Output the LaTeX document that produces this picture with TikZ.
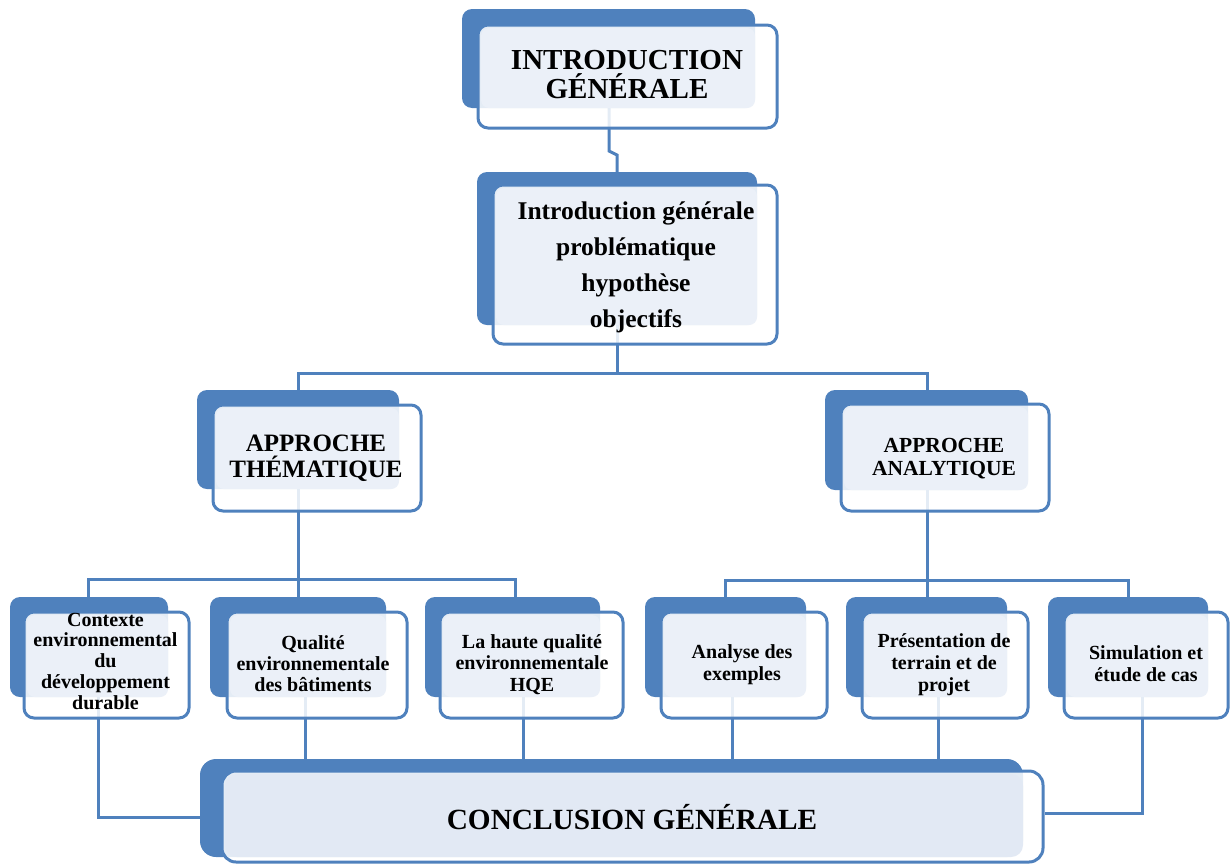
\documentclass[tikz,border=0pt]{standalone}
\usepackage{fontspec}
\setmainfont{Liberation Serif}
\usetikzlibrary{calc}
\definecolor{dkblue}{HTML}{4F81BD}
\definecolor{ltblue}{HTML}{EBF0F8}
\definecolor{ltbluec}{HTML}{E2E9F4}
\pgfdeclarelayer{bg}
\pgfsetlayers{bg,main}
\newcommand{\fs}[2]{\fontsize{#1}{#2}\selectfont\bfseries}
\tikzset{
  backbox/.style={fill=dkblue, draw=none, rounded corners=10pt, inner sep=0pt},
  frontbox/.style={fill=white, fill opacity=0.85, draw=dkblue, draw opacity=1, line width=3pt, rounded corners=10pt, inner sep=0pt},
  lightbox/.style={fill=ltblue, draw=none, rounded corners=8pt, inner sep=0pt},
  conn/.style={draw=dkblue, line width=3pt},
  lbl/.style={align=center, inner sep=0pt, anchor=base, text=black},
}
\newcommand{\card}[9]{%
  \node[backbox, minimum width={#4-#2}, minimum height={#5-#3}] (#1-b) at ({(#2+#4)/2},{(#3+#5)/2}) {};
  \node[frontbox, minimum width={#8-#6}, minimum height={#9-#7}] (#1) at ({(#6+#8)/2},{(#7+#9)/2}) {};
  \node[lightbox, minimum width={#4-#6-3}, minimum height={#5-#7-3}] (#1-l) at ({(#6+3+#4)/2},{(#7+3+#5)/2}) {};
}
\begin{document}
\begin{tikzpicture}[x=1pt, y=-1pt]
\useasboundingbox (0,0) rectangle (1230,865);
% cards
\card{top}{462}{9}{755}{108}{478}{25}{777}{128}
\card{intro}{477}{172}{757}{325}{493}{185}{777}{344}
\card{at}{197}{390}{399}{489}{213}{405}{421}{511}
\card{aa}{825}{390}{1028}{490}{841}{404}{1049}{511}
\card{b1}{10}{597}{168}{697}{24}{612}{189}{718}
\card{b2}{210}{597}{386}{697}{227}{612}{407}{718}
\card{b3}{425}{597}{600}{697}{440}{612}{623}{718}
\card{b4}{645}{597}{806}{697}{661}{612}{827}{718}
\card{b5}{846}{597}{1007}{697}{862}{612}{1028}{718}
\card{b6}{1048}{597}{1208}{697}{1064}{612}{1228}{718}
% conclusion
\node[backbox, rounded corners=16pt, minimum width=823, minimum height=98] (concl-b) at (611.5,808) {};
\node[frontbox, rounded corners=14pt, minimum width=821, minimum height=91] (concl) at (632.5,816.5) {};
\node[lightbox, fill=ltbluec, rounded corners=12pt, minimum width=798, minimum height=83] (concl-l) at (624,815.5) {};
% texts (anchor = baseline of the last line)
\node[lbl, font=\fs{29}{29}] (t-top) at (627,98) {INTRODUCTION\\GÉNÉRALE};
\node[lbl, font=\fs{25.5}{36}] (t-intro) at (636,327) {Introduction générale\\problématique\\hypothèse\\objectifs};
\node[lbl, font=\fs{25}{26}] (t-at) at (316,477) {APPROCHE\\THÉMATIQUE};
\node[lbl, font=\fs{21.5}{23}] (t-aa) at (944,475) {APPROCHE\\ANALYTIQUE};
\node[lbl, font=\fs{20}{20.7}] (t-b1) at (105.5,709) {Contexte\\environnemental\\du\\développement\\durable};
\node[lbl, font=\fs{20}{21}] (t-b2) at (313,691) {Qualité\\environnementale\\des bâtiments};
\node[lbl, font=\fs{20}{21.5}] (t-b3) at (532,691) {La haute qualité\\environnementale\\HQE};
\node[lbl, font=\fs{20}{21.5}] (t-b4) at (742,680) {Analyse des\\exemples};
\node[lbl, font=\fs{20}{22}] (t-b5) at (944,691) {Présentation de\\terrain et de\\projet};
\node[lbl, font=\fs{20}{22}] (t-b6) at (1146,681) {Simulation et\\étude de cas};
\node[lbl, font=\fs{29.3}{30}] (t-concl) at (632,829) {CONCLUSION GÉNÉRALE};
% connectors
\begin{pgfonlayer}{bg}
\draw[conn] (top-l.south -| 609,0) -- (609,151) -- (617,155) -- (intro-b.north -| 617,0);
\draw[conn] (intro-l.south -| 617,0) -- (617,373) -| (at-b.north -| 298,0);
\draw[conn] (617,373) -| (aa-b.north -| 927,0);
\draw[conn] (at-l.south -| 298,0) -- (b2-b.north -| 298,0);
\draw[conn] (b1-b.north -| 88,0) -- (88,579) -- (515,579) -- (b3-b.north -| 515,0);
\draw[conn] (aa-l.south -| 927,0) -- (b5-b.north -| 927,0);
\draw[conn] (b4-b.north -| 725,0) -- (725,580) -- (1128,580) -- (b6-b.north -| 1128,0);
\draw[conn] (b1-l.south -| 98,0) -- (98,817) -- (concl-b.west |- 0,817);
\draw[conn] (b2-l.south -| 305,0) -- (concl-b.north -| 305,0);
\draw[conn] (b3-l.south -| 523,0) -- (concl-b.north -| 523,0);
\draw[conn] (b4-l.south -| 732,0) -- (concl-b.north -| 732,0);
\draw[conn] (b5-l.south -| 938,0) -- (concl-b.north -| 938,0);
\draw[conn] (b6-l.south -| 1142,0) -- (1142,813) -- (concl.east |- 0,813);
\end{pgfonlayer}
\end{tikzpicture}
\end{document}
